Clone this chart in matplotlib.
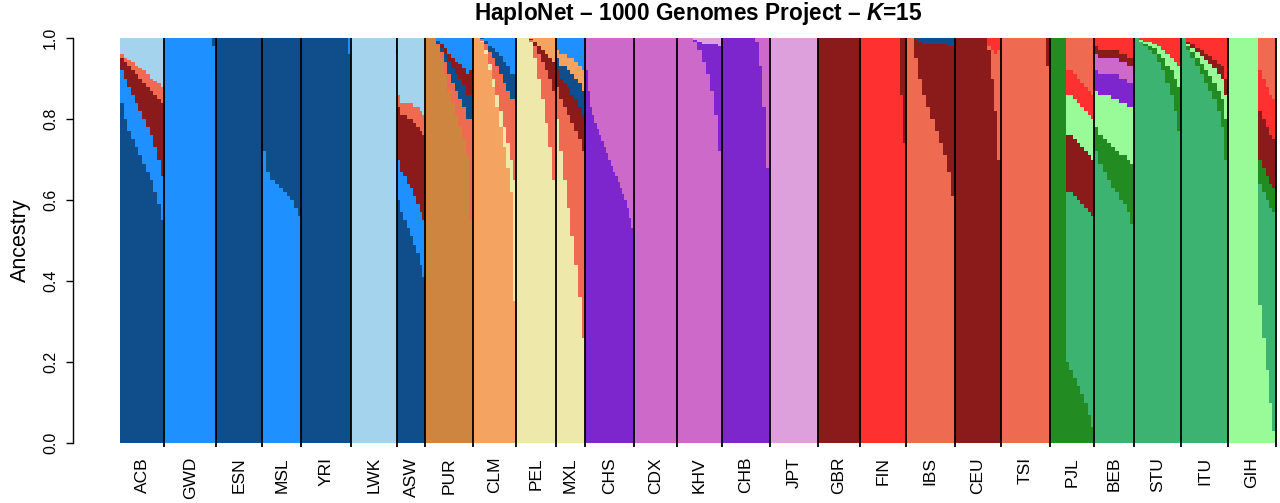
import numpy as np
import matplotlib
matplotlib.use("Agg")
import matplotlib.pyplot as plt

plt.rcParams['font.family'] = ['Liberation Sans', 'DejaVu Sans']
plt.rcParams['mathtext.fontset'] = 'custom'
plt.rcParams['mathtext.it'] = 'Liberation Sans:style=italic:weight=bold'

# R colour names used by the 15 ancestry components
COLS = {
    'dodgerblue4': '#104E8B', 'dodgerblue': '#1E90FF', 'lightskyblue': '#A4D3EE',
    'tan3': '#CD853F', 'sandybrown': '#F4A460', 'palegoldenrod': '#EEE8AA',
    'purple3': '#7D26CD', 'orchid3': '#CD69C9', 'plum': '#DDA0DD',
    'firebrick4': '#8B1A1A', 'firebrick1': '#FF3030', 'coral2': '#EE6A50',
    'forestgreen': '#228B22', 'mediumseagreen': '#3CB371', 'palegreen': '#98FB98',
}

pops = ['ACB', 'GWD', 'ESN', 'MSL', 'YRI', 'LWK', 'ASW', 'PUR', 'CLM', 'PEL', 'MXL',
        'CHS', 'CDX', 'KHV', 'CHB', 'JPT', 'GBR', 'FIN', 'IBS', 'CEU', 'TSI',
        'PJL', 'BEB', 'STU', 'ITU', 'GIH']
sizes = [96, 113, 99, 85, 108, 99, 61, 104, 94, 85, 64,
         105, 93, 99, 103, 104, 91, 99, 107, 99, 107,
         96, 86, 102, 102, 103]

# each population: individuals per block, stacked layers (bottom first), top filler
ACB = dict(n=[8] * 12, rest='lightskyblue', layers=[
    ('dodgerblue4', [0.84, 0.80, 0.77, 0.75, 0.73, 0.71, 0.69, 0.67, 0.65, 0.62, 0.59, 0.55]),
    ('dodgerblue', [0.08, 0.10, 0.11, 0.11, 0.11, 0.11, 0.11, 0.11, 0.11, 0.11, 0.11, 0.11]),
    ('firebrick4', [0.03, 0.04, 0.05, 0.06, 0.07, 0.08, 0.09, 0.10, 0.11, 0.13, 0.15, 0.18]),
    ('coral2', [0.01, 0.01, 0.015, 0.02, 0.02, 0.025, 0.03, 0.03, 0.03, 0.035, 0.04, 0.04])])
GWD = dict(n=[104, 6, 3], rest='dodgerblue4', layers=[('dodgerblue', [1.0, 0.98, 0.90])])
ESN = dict(n=[99], rest='dodgerblue', layers=[('dodgerblue4', [1.0])])
MSL = dict(n=[9, 9, 9, 9, 9, 8, 8, 8, 8, 8], rest='dodgerblue4', layers=[
    ('dodgerblue', [0.72, 0.67, 0.65, 0.64, 0.63, 0.62, 0.61, 0.60, 0.58, 0.56])])
YRI = dict(n=[102, 6], rest='dodgerblue', layers=[('dodgerblue4', [1.0, 0.96])])
LWK = dict(n=[96, 3], rest='dodgerblue4', layers=[('lightskyblue', [1.0, 0.96])])
ASW = dict(n=[7, 7, 7, 7, 7, 7, 7, 6, 6], rest='lightskyblue', layers=[
    ('dodgerblue4', [0.60, 0.57, 0.55, 0.53, 0.51, 0.49, 0.47, 0.44, 0.41]),
    ('dodgerblue', [0.10, 0.10, 0.11, 0.11, 0.12, 0.12, 0.12, 0.13, 0.14]),
    ('firebrick4', [0.13, 0.14, 0.15, 0.16, 0.17, 0.18, 0.19, 0.20, 0.21]),
    ('coral2', [0.03, 0.03, 0.03, 0.04, 0.04, 0.04, 0.05, 0.05, 0.05])])
PUR = dict(n=[8] * 13, rest='dodgerblue', layers=[
    ('tan3', [1.0, 1.0, 1.0, 0.98, 0.95, 0.91, 0.87, 0.84, 0.81, 0.78, 0.75, 0.71, 0.55]),
    ('coral2', [0, 0, 0, 0.005, 0.015, 0.03, 0.04, 0.05, 0.06, 0.07, 0.08, 0.09, 0.25]),
    ('dodgerblue4', [0, 0, 0, 0.005, 0.01, 0.02, 0.03, 0.035, 0.04, 0.05, 0.055, 0.06, 0.06]),
    ('firebrick4', [0, 0, 0, 0.003, 0.01, 0.015, 0.02, 0.025, 0.03, 0.035, 0.04, 0.05, 0.06])])
CLM = dict(n=[8] * 10 + [7, 7], rest='dodgerblue', layers=[
    ('sandybrown', [1.0, 1.0, 0.99, 0.96, 0.92, 0.88, 0.83, 0.78, 0.73, 0.68, 0.62, 0.35]),
    ('palegoldenrod', [0, 0, 0.003, 0.01, 0.015, 0.02, 0.03, 0.04, 0.05, 0.06, 0.08, 0.30]),
    ('coral2', [0, 0, 0.004, 0.015, 0.03, 0.05, 0.07, 0.09, 0.11, 0.13, 0.15, 0.20]),
    ('dodgerblue4', [0, 0, 0.002, 0.008, 0.015, 0.025, 0.035, 0.045, 0.05, 0.06, 0.06, 0.06])])
PEL = dict(n=[9, 9, 9, 9, 9, 8, 8, 8, 8, 8], rest='sandybrown', layers=[
    ('palegoldenrod', [1.0, 1.0, 1.0, 0.99, 0.95, 0.90, 0.85, 0.79, 0.73, 0.65]),
    ('coral2', [0, 0, 0, 0.006, 0.03, 0.06, 0.09, 0.13, 0.17, 0.22]),
    ('firebrick4', [0, 0, 0, 0.002, 0.01, 0.02, 0.03, 0.04, 0.05, 0.07])])
MXL = dict(n=[8] * 8, rest='dodgerblue', layers=[
    ('palegoldenrod', [0.80, 0.72, 0.65, 0.58, 0.51, 0.44, 0.36, 0.26]),
    ('coral2', [0.08, 0.13, 0.18, 0.23, 0.28, 0.33, 0.39, 0.46]),
    ('firebrick4', [0.04, 0.05, 0.06, 0.07, 0.07, 0.08, 0.08, 0.09]),
    ('dodgerblue4', [0.03, 0.03, 0.04, 0.04, 0.05, 0.05, 0.06, 0.06]),
    ('sandybrown', [0.02, 0.03, 0.03, 0.03, 0.04, 0.04, 0.04, 0.05])])
CHS = dict(n=[5] * 21, rest='orchid3', layers=[
    ('purple3', [0.92, 0.87, 0.83, 0.81, 0.79, 0.775, 0.76, 0.745, 0.73, 0.715, 0.70,
                 0.685, 0.67, 0.66, 0.645, 0.63, 0.615, 0.60, 0.58, 0.555, 0.53])])
CDX = dict(n=[93], rest='plum', layers=[('orchid3', [1.0])])
KHV = dict(n=[9] * 11, rest='plum', layers=[
    ('orchid3', [1.0, 1.0, 1.0, 1.0, 0.99, 0.97, 0.94, 0.91, 0.87, 0.81, 0.72]),
    ('purple3', [0, 0, 0, 0, 0.005, 0.02, 0.045, 0.075, 0.115, 0.175, 0.26])])
CHB = dict(n=[10] * 7 + [9, 8, 8, 8], rest='orchid3', layers=[
    ('purple3', [1, 1, 1, 1, 1, 1, 1, 0.99, 0.93, 0.83, 0.68])])
JPT = dict(n=[104], rest='orchid3', layers=[('plum', [1.0])])
GBR = dict(n=[91], rest='coral2', layers=[('firebrick4', [1.0])])
FIN = dict(n=[87, 6, 6], rest='firebrick4', layers=[('firebrick1', [1.0, 0.86, 0.74])])
IBS = dict(n=[9] * 11 + [8], rest='dodgerblue4', layers=[
    ('coral2', [1.0, 1.0, 0.95, 0.90, 0.86, 0.83, 0.80, 0.77, 0.74, 0.71, 0.67, 0.61]),
    ('firebrick4', [0, 0, 0.045, 0.09, 0.125, 0.155, 0.185, 0.215, 0.245, 0.275, 0.31, 0.37])])
CEU = dict(n=[10] * 7 + [8, 7, 7, 7], rest='firebrick1', layers=[
    ('firebrick4', [1, 1, 1, 1, 1, 1, 1, 0.97, 0.90, 0.82, 0.70]),
    ('coral2', [0, 0, 0, 0, 0, 0, 0, 0.01, 0.07, 0.14, 0.27])])
TSI = dict(n=[99, 8], rest='firebrick4', layers=[('coral2', [1.0, 0.93])])
PJL = dict(n=[34, 8, 8, 8, 8, 8, 8, 7, 7], rest='coral2', layers=[
    ('forestgreen', [1.0, 0.20, 0.18, 0.16, 0.14, 0.12, 0.10, 0.07, 0.04]),
    ('mediumseagreen', [0, 0.42, 0.44, 0.45, 0.46, 0.47, 0.48, 0.50, 0.52]),
    ('firebrick4', [0, 0.14, 0.14, 0.14, 0.14, 0.14, 0.14, 0.14, 0.14]),
    ('palegreen', [0, 0.10, 0.10, 0.10, 0.10, 0.10, 0.10, 0.10, 0.10]),
    ('firebrick1', [0, 0.06, 0.06, 0.06, 0.06, 0.06, 0.06, 0.06, 0.06])])
BEB = dict(n=[9] * 6 + [8] * 4, rest='firebrick1', layers=[
    ('mediumseagreen', [0.72, 0.69, 0.67, 0.65, 0.63, 0.62, 0.60, 0.59, 0.57, 0.54]),
    ('forestgreen', [0.06, 0.07, 0.08, 0.09, 0.10, 0.10, 0.11, 0.12, 0.13, 0.15]),
    ('palegreen', [0.09, 0.10, 0.11, 0.12, 0.12, 0.13, 0.13, 0.13, 0.13, 0.14]),
    ('purple3', [0.05, 0.05, 0.05, 0.05, 0.06, 0.06, 0.06, 0.06, 0.06, 0.06]),
    ('orchid3', [0.04, 0.04, 0.04, 0.04, 0.04, 0.04, 0.04, 0.04, 0.04, 0.04]),
    ('firebrick4', [0.02, 0.02, 0.02, 0.02, 0.02, 0.02, 0.02, 0.02, 0.02, 0.02])])
STU = dict(n=[10, 10, 10, 10, 10, 9, 9, 9, 9, 8, 8], rest='firebrick1', layers=[
    ('mediumseagreen', [1.0, 0.99, 0.98, 0.97, 0.96, 0.94, 0.92, 0.89, 0.86, 0.82, 0.77]),
    ('forestgreen', [0, 0, 0.005, 0.01, 0.015, 0.02, 0.03, 0.04, 0.06, 0.08, 0.11]),
    ('palegreen', [0, 0.005, 0.005, 0.01, 0.01, 0.02, 0.02, 0.03, 0.03, 0.04, 0.05])])
ITU = dict(n=[10, 10, 10, 10, 10, 9, 9, 9, 9, 8, 8], rest='firebrick1', layers=[
    ('mediumseagreen', [1.0, 0.97, 0.95, 0.93, 0.91, 0.89, 0.87, 0.85, 0.82, 0.78, 0.70]),
    ('forestgreen', [0, 0.01, 0.015, 0.02, 0.025, 0.03, 0.035, 0.04, 0.05, 0.07, 0.10]),
    ('palegreen', [0, 0.005, 0.01, 0.015, 0.02, 0.025, 0.03, 0.035, 0.04, 0.05, 0.06]),
    ('firebrick4', [0, 0.005, 0.01, 0.01, 0.015, 0.015, 0.02, 0.02, 0.025, 0.03, 0.04])])
GIH = dict(n=[65, 8, 8, 8, 7, 7], rest='coral2', layers=[
    ('palegreen', [1.0, 0.34, 0.26, 0.18, 0.10, 0.03]),
    ('mediumseagreen', [0, 0.30, 0.36, 0.42, 0.48, 0.54]),
    ('forestgreen', [0, 0.06, 0.06, 0.06, 0.06, 0.06]),
    ('firebrick4', [0, 0.12, 0.12, 0.12, 0.12, 0.12]),
    ('firebrick1', [0, 0.10, 0.10, 0.10, 0.10, 0.10])])

profiles = dict(ACB=ACB, GWD=GWD, ESN=ESN, MSL=MSL, YRI=YRI, LWK=LWK, ASW=ASW,
                PUR=PUR, CLM=CLM, PEL=PEL, MXL=MXL, CHS=CHS, CDX=CDX, KHV=KHV,
                CHB=CHB, JPT=JPT, GBR=GBR, FIN=FIN, IBS=IBS, CEU=CEU, TSI=TSI,
                PJL=PJL, BEB=BEB, STU=STU, ITU=ITU, GIH=GIH)


def draw_population(ax, start, spec):
    n = np.array(spec['n'], dtype=float)
    lefts = start + np.concatenate([[0], np.cumsum(n)[:-1]])
    bottom = np.zeros(len(n))
    for name, vals in spec['layers']:
        vals = np.array(vals, dtype=float)
        ax.bar(lefts, vals, width=n, bottom=bottom, align='edge',
               color=COLS[name], linewidth=0, antialiased=False)
        bottom += vals
    rest = np.clip(1 - bottom, 0, None)
    ax.bar(lefts, rest, width=n, bottom=bottom, align='edge',
           color=COLS[spec['rest']], linewidth=0, antialiased=False)


fig = plt.figure(figsize=(12.8, 5.03), dpi=100)
ax = fig.add_axes([120 / 1280, 1 - 443 / 503, 1155.7 / 1280, 405 / 503])

start = 0
for pop, size in zip(pops, sizes):
    assert sum(profiles[pop]['n']) == size, pop
    draw_population(ax, start, profiles[pop])
    start += size

bounds = np.cumsum(sizes)
mids = bounds - np.array(sizes) / 2
ax.vlines(bounds, -0.011, 1, color='black', linewidth=1.3, clip_on=False, zorder=5)

ax.set_xlim(0, bounds[-1])
ax.set_ylim(0, 1)
for side in ['top', 'right', 'bottom']:
    ax.spines[side].set_visible(False)
ax.spines['left'].set_position(('outward', 34))
ax.spines['left'].set_bounds(0, 1)
ax.spines['left'].set_linewidth(1.0)

ax.set_yticks([0, 0.2, 0.4, 0.6, 0.8, 1.0])
ax.set_yticklabels(['0.0', '0.2', '0.4', '0.6', '0.8', '1.0'])
ax.tick_params(axis='y', length=5, width=1.0, pad=5.5, labelsize=11.5, labelrotation=90)
for lab in ax.get_yticklabels():
    lab.set_verticalalignment('center')

ax.set_xticks(mids)
ax.set_xticklabels(pops, rotation=90)
ax.tick_params(axis='x', length=0, pad=10, labelsize=12.5)

ax.set_title('HaploNet \u2013 1000 Genomes Project \u2013 $\\mathit{K}$=15',
             fontsize=16.3, fontweight='bold', pad=13)
fig.text(20 / 1280, 1 - 240 / 503, 'Ancestry', rotation=90, ha='center', va='center',
         fontsize=15.5)

fig.savefig('out.png', dpi=100)
